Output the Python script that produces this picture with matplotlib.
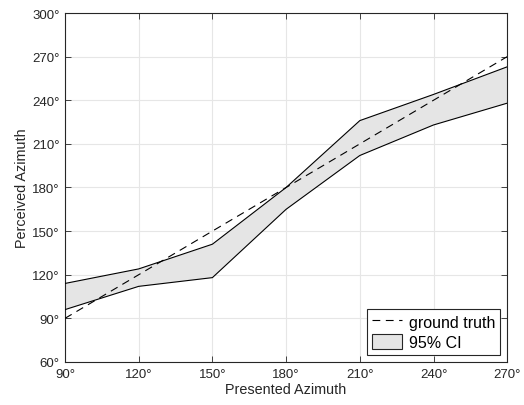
import matplotlib
matplotlib.use("Agg")
import matplotlib.pyplot as plt
from matplotlib.patches import Patch
from matplotlib.lines import Line2D

azimuth = [90, 120, 150, 180, 210, 240, 270]
ci_upper = [114, 124, 141, 180, 226, 244, 263]
ci_lower = [96, 112, 118, 165, 202, 223, 238]
ground_truth = [90, 120, 150, 180, 210, 240, 270]
yticks = [60, 90, 120, 150, 180, 210, 240, 270, 300]
xticks = [90, 120, 150, 180, 210, 240, 270]

plt.rcParams['font.family'] = ['Liberation Sans', 'DejaVu Sans']
txt = '#262626'

fig = plt.figure(figsize=(5.24, 4.06), dpi=100)
ax = fig.add_axes([0.124, 0.106, 0.844, 0.8595])

dash = (0, (7, 5))
ax.fill_between(azimuth, ci_lower, ci_upper, facecolor='#e5e5e5', edgecolor='none', zorder=2)
ax.plot(azimuth, ci_upper, color='black', lw=0.8, zorder=3)
ax.plot(azimuth, ci_lower, color='black', lw=0.8, zorder=3)
ax.plot(azimuth, ground_truth, color='black', lw=0.8, ls=dash, zorder=4)

ax.set_xlim(90, 270)
ax.set_ylim(60, 300)
ax.set_xticks(xticks)
ax.set_yticks(yticks)
ax.set_xticklabels([f"{v}°" for v in xticks])
ax.set_yticklabels([f"{v}°" for v in yticks])
ax.grid(True, color='#e6e6e6', lw=0.8, zorder=0)
ax.set_axisbelow(True)
ax.tick_params(direction='in', top=True, right=True, length=4, width=0.6,
               labelsize=9.5, labelcolor=txt, color='#262626', pad=4)
for s in ax.spines.values():
    s.set_linewidth(0.8)
    s.set_color('#262626')

ax.set_xlabel('Presented Azimuth', fontsize=10.4, color=txt, labelpad=2)
ax.set_ylabel('Perceived Azimuth', fontsize=10.4, color=txt, labelpad=2)

handles = [Line2D([0], [0], color='black', lw=0.8, ls=dash),
           Patch(facecolor='#e5e5e5', edgecolor='#262626', lw=0.8)]
leg = ax.legend(handles, ['ground truth', '95% CI'], loc='lower right',
                fontsize=11.5, frameon=True, fancybox=False, framealpha=1,
                edgecolor='#262626', borderpad=0.3, handlelength=1.9,
                handleheight=1.0, handletextpad=0.4, labelspacing=0.3,
                borderaxespad=0.45)
leg.get_frame().set_linewidth(0.8)

fig.savefig('out.png', dpi=100)
